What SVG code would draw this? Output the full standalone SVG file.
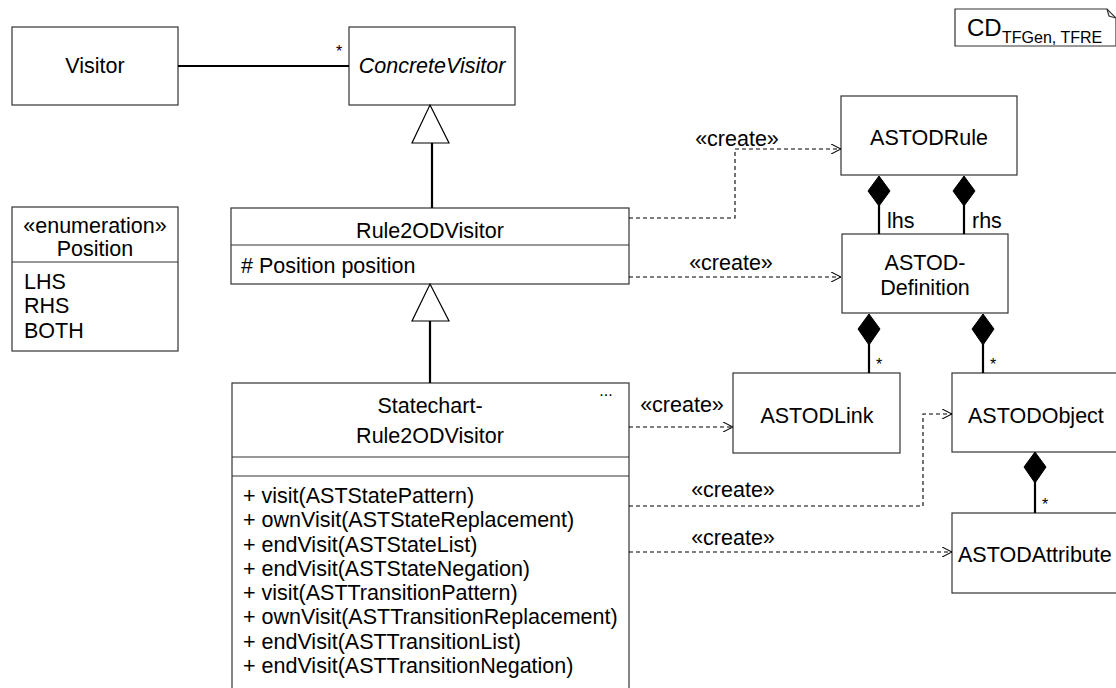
<svg xmlns="http://www.w3.org/2000/svg" width="1116" height="688" viewBox="0 0 1116 688">
  <defs>
    <style>
      text { font-family: "Liberation Sans", Arial, sans-serif; font-size: 21.5px; fill: #000; }
      .c { text-anchor: middle; }
      .it { font-style: italic; }
      .small { font-size: 16px; }
      .box { fill: #fff; stroke: #333; stroke-width: 1.2; }
      .div { stroke: #333; stroke-width: 1.2; fill: none; }
      .solid { stroke: #000; stroke-width: 2.2; fill: none; }
      .dash { stroke: #000; stroke-width: 1.1; fill: none; stroke-dasharray: 4 3; }
      .gen { fill: #fff; stroke: #000; stroke-width: 1.2; }
      .comp { fill: #000; stroke: #000; stroke-width: 1; }
    </style>
    <marker id="open" viewBox="0 0 10 10" refX="10" refY="5" markerWidth="10" markerHeight="10" markerUnits="userSpaceOnUse" orient="auto">
      <path d="M0,0 L10,5 L0,10" fill="none" stroke="#000" stroke-width="1.1"/>
    </marker>
  </defs>

  <!-- diagram tag -->
  <g id="tag">
    <path d="M955,9 H1107 L1116,18 V46 H955 Z" class="box"/>
    <path d="M1107,9 L1109,16 L1116,18" class="div"/>
    <text x="967" y="36" style="font-size:24px">CD</text>
    <text x="1002" y="43" class="small">TFGen, TFRE</text>
  </g>

  <g id="Visitor">
    <rect x="12" y="27" width="166" height="78" class="box"/>
    <text x="95" y="73" class="c">Visitor</text>
  </g>

  <g id="ConcreteVisitor">
    <rect x="349" y="27" width="166" height="78" class="box"/>
    <text x="432" y="73" class="c it">ConcreteVisitor</text>
  </g>

  <g id="Position">
    <rect x="12" y="207" width="166" height="144" class="box"/>
    <line x1="12" y1="262" x2="178" y2="262" class="div"/>
    <text x="95" y="233" class="c">«enumeration»</text>
    <text x="95" y="256" class="c">Position</text>
    <text x="24" y="289">LHS</text>
    <text x="24" y="313">RHS</text>
    <text x="24" y="338">BOTH</text>
  </g>

  <g id="Rule2ODVisitor">
    <rect x="231" y="208" width="398" height="76" class="box"/>
    <line x1="231" y1="245" x2="629" y2="245" class="div"/>
    <text x="430" y="238" class="c">Rule2ODVisitor</text>
    <text x="241" y="273"># Position position</text>
  </g>

  <g id="StatechartRule2ODVisitor">
    <rect x="232" y="383" width="397" height="310" class="box"/>
    <line x1="232" y1="457" x2="629" y2="457" class="div"/>
    <line x1="232" y1="476" x2="629" y2="476" class="div"/>
    <text x="430" y="413" class="c">Statechart-</text>
    <text x="430" y="443" class="c">Rule2ODVisitor</text>
    <text x="606" y="396" class="c small">...</text>
    <text x="243" y="503">+ visit(ASTStatePattern)</text>
    <text x="243" y="527">+ ownVisit(ASTStateReplacement)</text>
    <text x="243" y="552">+ endVisit(ASTStateList)</text>
    <text x="243" y="576">+ endVisit(ASTStateNegation)</text>
    <text x="243" y="600">+ visit(ASTTransitionPattern)</text>
    <text x="243" y="624">+ ownVisit(ASTTransitionReplacement)</text>
    <text x="243" y="649">+ endVisit(ASTTransitionList)</text>
    <text x="243" y="673">+ endVisit(ASTTransitionNegation)</text>
  </g>

  <g id="ASTODRule">
    <rect x="841" y="96" width="176" height="79" class="box"/>
    <text x="929" y="145" class="c">ASTODRule</text>
  </g>

  <g id="ASTODDefinition">
    <rect x="842" y="234" width="166" height="79" class="box"/>
    <text x="925" y="270" class="c">ASTOD-</text>
    <text x="925" y="295" class="c">Definition</text>
  </g>

  <g id="ASTODLink">
    <rect x="733" y="373" width="167" height="80" class="box"/>
    <text x="817" y="423" class="c">ASTODLink</text>
  </g>

  <g id="ASTODObject">
    <rect x="952" y="373" width="170" height="79" class="box"/>
    <text x="968" y="423">ASTODObject</text>
  </g>

  <g id="ASTODAttribute">
    <rect x="952" y="513" width="170" height="80" class="box"/>
    <text x="958" y="562">ASTODAttribute</text>
  </g>

  <g id="connectors">
    <!-- association -->
    <line x1="178" y1="66" x2="349" y2="66" class="solid"/>
    <text x="339" y="57" class="c small">*</text>

    <!-- generalizations -->
    <line x1="432" y1="143" x2="432" y2="208" class="solid"/>
    <path d="M430,105 L449,143 L412,143 Z" class="gen"/>
    <line x1="430" y1="321" x2="430" y2="383" class="solid"/>
    <path d="M430,284 L449,321 L412,321 Z" class="gen"/>

    <!-- compositions -->
    <line x1="879" y1="205" x2="879" y2="234" class="solid"/>
    <path d="M879,176 L890,191 L879,206 L868,191 Z" class="comp"/>
    <text x="887" y="228">lhs</text>
    <line x1="964" y1="205" x2="964" y2="234" class="solid"/>
    <path d="M964,176 L975,191 L964,206 L953,191 Z" class="comp"/>
    <text x="972" y="228">rhs</text>

    <line x1="869" y1="344" x2="869" y2="373" class="solid"/>
    <path d="M869,314 L880,329 L869,345 L858,329 Z" class="comp"/>
    <text x="879" y="370" class="c small">*</text>
    <line x1="983" y1="344" x2="983" y2="373" class="solid"/>
    <path d="M983,314 L994,329 L983,345 L972,329 Z" class="comp"/>
    <text x="993" y="370" class="c small">*</text>

    <line x1="1035" y1="482" x2="1035" y2="513" class="solid"/>
    <path d="M1035,452 L1046,467 L1035,483 L1024,467 Z" class="comp"/>
    <text x="1045" y="510" class="c small">*</text>

    <!-- create dependencies -->
    <path d="M629,218 H735 V149 H841" class="dash" marker-end="url(#open)"/>
    <text x="737" y="146" class="c">«create»</text>
    <path d="M629,277 H841" class="dash" marker-end="url(#open)"/>
    <text x="731" y="270" class="c">«create»</text>
    <path d="M629,427 H733" class="dash" marker-end="url(#open)"/>
    <text x="682" y="412" class="c">«create»</text>
    <path d="M629,506 H923 V414 H952" class="dash" marker-end="url(#open)"/>
    <text x="733" y="497" class="c">«create»</text>
    <path d="M629,552 H952" class="dash" marker-end="url(#open)"/>
    <text x="733" y="545" class="c">«create»</text>
  </g>
</svg>
